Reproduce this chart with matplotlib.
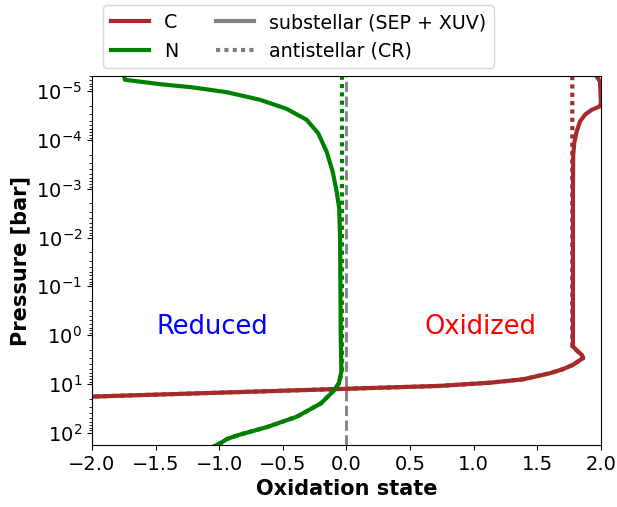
import matplotlib
matplotlib.use('Agg')
import matplotlib.pyplot as plt
from matplotlib.lines import Line2D
import numpy as np

# carbon, substellar (SEP + XUV)
c_sub_ox = [1.966, 1.992, 2.0, 1.99, 1.927, 1.874, 1.835, 1.809, 1.790, 1.782, 1.78,
            1.78, 1.85, 1.86, 1.78, 1.70, 1.60, 1.39, 1.13, 0.73, -2.0]
c_sub_p = [5.0e-6, 6.3e-6, 1.76e-5, 2.06e-5, 2.41e-5, 3.05e-5, 4.19e-5, 6.73e-5,
           1.17e-4, 2.02e-4, 1e-3, 1.72, 2.57, 2.95, 4.07, 5.0, 6.03, 8.04, 9.44,
           11.0, 18.2]

# carbon, antistellar (CR)
c_anti_ox = [1.775, 1.775, 1.85, 1.86, 1.78, 1.70, 1.60, 1.39, 1.13, 0.73, -2.0]
c_anti_p = [4.9e-6, 1.72, 2.57, 2.95, 4.07, 5.0, 6.03, 8.04, 9.44, 11.0, 18.2]

# nitrogen, substellar (SEP + XUV)
n_sub_ox = [-1.746, -1.741, -1.466, -1.204, -0.941, -0.680, -0.470, -0.313, -0.222,
            -0.156, -0.108, -0.077, -0.057, -0.05, -0.045, -0.04, -0.06, -0.10,
            -0.20, -0.39, -0.62, -0.85, -0.94, -0.98, -1.04]
n_sub_p = [5.0e-6, 5.83e-6, 7.18e-6, 8.39e-6, 1.05e-5, 1.50e-5, 2.30e-5, 3.86e-5,
           7.28e-5, 1.73e-4, 4.46e-4, 1.15e-3, 2.52e-3, 1e-2, 1.0, 5.6, 9.8, 13.8,
           25, 47, 76, 112, 135, 158, 190]

# nitrogen, antistellar (CR)
n_anti_ox = [-0.035, -0.035, -0.06, -0.10, -0.20, -0.39, -0.62, -0.85, -0.94, -0.98, -1.04]
n_anti_p = [4.8e-6, 5.6, 9.8, 13.8, 25, 47, 76, 112, 135, 158, 190]

fig = plt.figure(figsize=(6.17, 5.07), dpi=100)
ax = fig.add_axes([0.149, 0.122, 0.825, 0.728])

ax.axvline(0, color='gray', ls='--', lw=2)
ax.plot(c_sub_ox, c_sub_p, color='brown', lw=3)
ax.plot(c_anti_ox, c_anti_p, color='brown', lw=3, ls=(0, (1, 1)))
ax.plot(n_sub_ox, n_sub_p, color='green', lw=3)
ax.plot(n_anti_ox, n_anti_p, color='green', lw=3, ls=(0, (1, 1)))

ax.set_yscale('log')
ax.set_ylim(180, 4.9e-6)
ax.set_xlim(-2, 2)
ax.set_xticks(np.arange(-2, 2.01, 0.5))
ax.tick_params(labelsize=14)
ax.set_xlabel('Oxidation state', fontsize=15, fontweight='bold')
ax.set_ylabel('Pressure [bar]', fontsize=15, fontweight='bold')

ax.text(-1.05, 0.68, 'Reduced', color='blue', fontsize=18.5, ha='center', va='center')
ax.text(1.05, 0.68, 'Oxidized', color='red', fontsize=18.5, ha='center', va='center')

handles = [Line2D([], [], color='brown', lw=3),
           Line2D([], [], color='green', lw=3),
           Line2D([], [], color='gray', lw=3),
           Line2D([], [], color='gray', lw=3, ls=(0, (1, 1)))]
labels = ['C', 'N', 'substellar (SEP + XUV)', 'antistellar (CR)']
fig.legend(handles, labels, loc='upper center', bbox_to_anchor=(0.484, 0.993),
           ncol=2, fontsize=13.7, borderaxespad=0.1)

fig.savefig('out.png', dpi=100)
